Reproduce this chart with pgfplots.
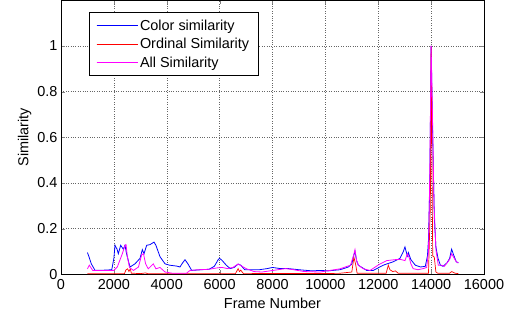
\documentclass[border=0pt]{standalone}
\usepackage{pgfplots}
\pgfplotsset{compat=1.18}
\usepackage{fontspec}
\setmainfont{Liberation Sans}
\definecolor{mblue}{RGB}{0,0,255}
\definecolor{mred}{RGB}{255,0,0}
\definecolor{mmag}{RGB}{255,0,255}
\begin{document}
\begin{tikzpicture}[x=1bp,y=1bp]
\path (0,0) rectangle (520,320);
\begin{axis}[
  at={(61bp,46bp)}, anchor=south west,
  scale only axis, width=423bp, height=274bp,
  xmin=0, xmax=16000, ymin=0, ymax=1.2,
  xtick={0,2000,...,16000}, ytick={0,0.2,0.4,0.6,0.8,1},
  yticklabels={0,0.2,0.4,0.6,0.8,1},
  /pgf/number format/assume math mode=true,
  /pgf/number format/1000 sep={},
  scaled x ticks=false,
  tick align=inside, tick pos=both,
  major tick length=4bp,
  grid=major,
  grid style={black!60, dotted, line width=0.5pt},
  axis line style={line width=0.6pt},
  tick label style={font=\fontsize{14.5}{17}\selectfont},
  xticklabel style={yshift=-2bp},
  label style={font=\fontsize{14.5}{17}\selectfont},
  xlabel={Frame Number}, ylabel={Similarity},
  xlabel style={at={(axis description cs:0.5,-0.124)}, anchor=base},
  ylabel style={at={(axis description cs:-0.077,0.5)}, anchor=base},
  legend style={at={(0.066,0.956)}, anchor=north west, font=\fontsize{14.5}{17}\selectfont,
    draw=black, line width=0.6pt, inner xsep=7bp, inner ysep=5bp, row sep=2.5bp, cells={anchor=west}},
  legend cell align=left,
  legend image code/.code={\path (0bp,0bp) -- (41bp,0bp); \draw[#1, line width=0.7pt] (0bp,0bp) -- (38bp,0bp);},
]
\addplot[color=mblue, line width=0.8pt] coordinates {
(1000,0.095) (1050,0.08) (1150,0.045) (1290,0.017) (1600,0.018) (1920,0.02) (2000,0.07) (2043,0.127) (2120,0.11) (2168,0.09) (2257,0.127) (2357,0.11) (2420,0.127) (2480,0.09) (2610,0.032) (2800,0.046) (2990,0.07) (3076,0.108) (3140,0.09) (3240,0.127) (3366,0.13) (3518,0.141) (3590,0.127) (3745,0.077) (3934,0.046) (4100,0.04) (4375,0.036) (4500,0.032) (4600,0.05) (4690,0.064) (4800,0.046) (4943,0.017) (5300,0.02) (5600,0.022) (5800,0.035) (5950,0.065) (6000,0.07) (6100,0.06) (6250,0.04) (6400,0.025) (6550,0.03) (6700,0.045) (6800,0.04) (6950,0.02) (7200,0.02) (7500,0.02) (7800,0.025) (8000,0.03) (8300,0.025) (8600,0.025) (9000,0.02) (9500,0.015) (9800,0.017) (10100,0.015) (10553,0.02) (10868,0.032) (11000,0.045) (11057,0.077) (11120,0.1) (11180,0.06) (11246,0.04) (11562,0.017) (11813,0.017) (12190,0.04) (12568,0.055) (12823,0.07) (12950,0.1) (13010,0.12) (13100,0.08) (13140,0.095) (13230,0.065) (13400,0.04) (13600,0.032) (13780,0.035) (13860,0.08) (13900,0.15) (13950,0.4) (14000,1.0) (14060,0.6) (14120,0.25) (14180,0.12) (14260,0.07) (14350,0.04) (14450,0.035) (14600,0.05) (14700,0.07) (14775,0.11) (14850,0.085) (14950,0.055) (15030,0.05)
};
\addlegendentry{Color similarity}
\addplot[color=mred, line width=0.7pt] coordinates {
(1000,0.002) (2400,0.003) (2460,0.02) (2520,0.024) (2570,0.012) (2620,0.024) (2660,0.005) (3000,0.003) (3200,0.006) (3300,0.002) (6600,0.003) (6700,0.025) (6750,0.012) (6800,0.018) (6900,0.003) (10500,0.004) (11000,0.01) (11080,0.075) (11150,0.04) (11200,0.005) (12300,0.005) (12380,0.04) (12440,0.02) (12550,0.012) (12650,0.015) (12750,0.005) (13900,0.005) (13970,0.3) (14000,1.0) (14030,0.5) (14060,0.08) (14120,0.075) (14180,0.01) (14250,0.005) (14700,0.005) (14780,0.012) (14900,0.005) (15030,0.003)
};
\addlegendentry{Ordinal Similarity}
\addplot[color=mmag, line width=0.8pt] coordinates {
(1000,0.024) (1070,0.04) (1200,0.017) (1600,0.017) (2000,0.017) (2130,0.032) (2220,0.06) (2320,0.09) (2420,0.127) (2460,0.13) (2510,0.077) (2590,0.03) (2740,0.017) (2930,0.032) (3050,0.085) (3120,0.09) (3200,0.046) (3300,0.024) (3490,0.046) (3590,0.024) (3745,0.03) (3934,0.01) (4200,0.005) (4750,0.005) (4880,0.017) (5200,0.02) (5600,0.022) (5900,0.028) (6100,0.03) (6300,0.025) (6500,0.03) (6700,0.045) (6850,0.035) (7000,0.025) (7300,0.012) (7600,0.01) (7900,0.015) (8200,0.02) (8500,0.025) (8800,0.02) (9200,0.012) (9800,0.01) (10553,0.024) (10950,0.04) (11060,0.08) (11120,0.108) (11180,0.06) (11246,0.04) (11440,0.024) (11690,0.017) (12060,0.045) (12320,0.06) (12700,0.065) (12850,0.065) (13012,0.06) (13100,0.09) (13180,0.07) (13230,0.047) (13320,0.025) (13500,0.02) (13700,0.025) (13830,0.03) (13900,0.1) (13950,0.45) (14000,1.0) (14050,0.7) (14110,0.3) (14184,0.105) (14270,0.04) (14400,0.04) (14500,0.035) (14600,0.05) (14700,0.065) (14775,0.09) (14850,0.075) (14950,0.055) (15030,0.05)
};
\addlegendentry{All Similarity}
\end{axis}
\end{tikzpicture}
\end{document}
